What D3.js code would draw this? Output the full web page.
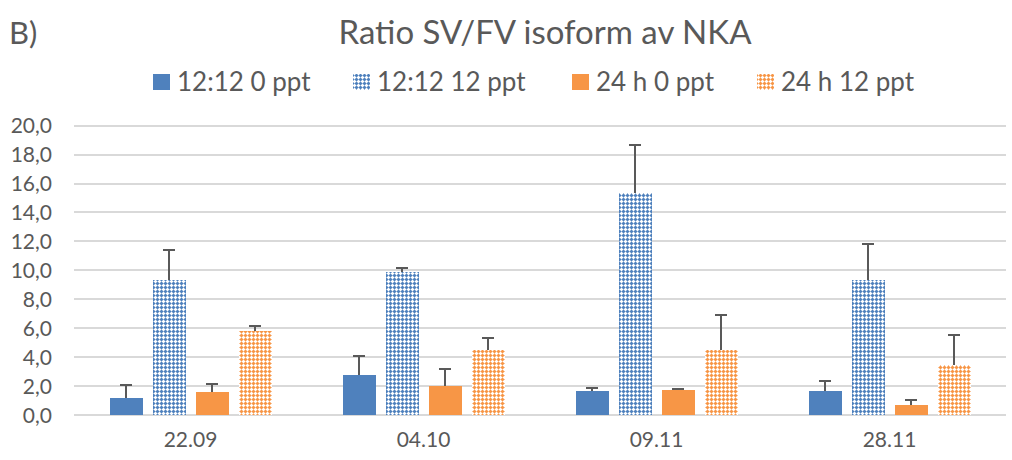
<!DOCTYPE html>
<html>
<head>
<meta charset="utf-8">
<script src="https://cdn.jsdelivr.net/npm/d3@7"></script>
<style>
  body { margin: 0; background: #fff; }
  text { font-family: Lato, "Open Sans", sans-serif; fill: #595959; }
</style>
</head>
<body>
<div id="chart"></div>
<script>
var width = 1012;
var height = 460;

// data
var categories = ["22.09", "04.10", "09.11", "28.11"];
var seriesNames = ["12:12 0 ppt", "12:12 12 ppt", "24 h 0 ppt", "24 h 12 ppt"];
var yTicks = [0, 2, 4, 6, 8, 10, 12, 14, 16, 18, 20];

var val_12_0 = [1.2, 2.77, 1.66, 1.65];
var val_12_12 = [9.34, 9.91, 15.33, 9.34];
var val_24_0 = [1.6, 2.0, 1.75, 0.7];
var val_24_12 = [5.83, 4.47, 4.5, 3.44];

var err_12_0 = [0.85, 1.33, 0.21, 0.73];
var err_12_12 = [2.09, 0.24, 3.32, 2.5];
var err_24_0 = [0.52, 1.18, 0.05, 0.34];
var err_24_12 = [0.32, 0.88, 2.42, 2.09];

var values = [val_12_0, val_12_12, val_24_0, val_24_12];
var errors = [err_12_0, err_12_12, err_24_0, err_24_12];
var colors = ["#4f81bd", "#4f81bd", "#f79646", "#f79646"];
var patterned = [false, true, false, true];

var svg = d3.select("#chart")
  .append("svg")
  .attr("width", width)
  .attr("height", height)
  .attr("shape-rendering", "crispEdges");

// plus-shaped checker patterns for the 12 ppt series
var whitePx = [[1,0],[0,1],[1,1],[2,1],[1,2]];
var halfPx = [[0,0],[2,0],[3,1],[0,2],[2,2],[1,3]];
var defs = svg.append("defs");
["#4f81bd", "#f79646"].forEach(function(c, i) {
  var p = defs.append("pattern")
    .attr("id", "pat" + i)
    .attr("patternUnits", "userSpaceOnUse")
    .attr("width", 4)
    .attr("height", 4);
  p.append("rect").attr("width", 4).attr("height", 4).attr("fill", c);
  whitePx.forEach(function(q) {
    p.append("rect").attr("x", q[0]).attr("y", q[1]).attr("width", 1).attr("height", 1).attr("fill", "#fff");
  });
  halfPx.forEach(function(q) {
    p.append("rect").attr("x", q[0]).attr("y", q[1]).attr("width", 1).attr("height", 1)
      .attr("fill", "#fff").attr("opacity", 0.45);
  });
});

function fillFor(s) {
  if (!patterned[s]) return colors[s];
  return s === 1 ? "url(#pat0)" : "url(#pat1)";
}

var x0 = d3.scaleBand()
  .domain(categories)
  .range([74, 1006])
  .paddingInner(0.305)
  .paddingOuter(0.1525);

var x1 = d3.scaleBand()
  .domain(d3.range(seriesNames.length))
  .range([0, x0.bandwidth()])
  .paddingInner(0.233);

var y = d3.scaleLinear()
  .domain([0, 20])
  .range([415, 125.7]);

// gridlines
svg.append("g")
  .selectAll("line")
  .data(yTicks)
  .join("line")
  .attr("x1", 74)
  .attr("x2", 1006)
  .attr("y1", function(d) { return Math.round(y(d)); })
  .attr("y2", function(d) { return Math.round(y(d)); })
  .attr("stroke", "#d9d9d9")
  .attr("stroke-width", 2);

// y tick labels
svg.append("g")
  .selectAll("text")
  .data(yTicks)
  .join("text")
  .attr("x", 52)
  .attr("y", function(d) { return y(d); })
  .attr("dy", "0.36em")
  .attr("text-anchor", "end")
  .style("font-size", "21px")
  .text(function(d) { return d.toFixed(1).replace(".", ","); });

// x labels
svg.append("g")
  .selectAll("text")
  .data(categories)
  .join("text")
  .attr("x", function(d) { return x0(d) + x0.bandwidth() / 2; })
  .attr("y", 447)
  .attr("text-anchor", "middle")
  .style("font-size", "21px")
  .text(function(d) { return d; });

// bars
var groups = svg.append("g")
  .selectAll("g")
  .data(categories)
  .join("g")
  .attr("transform", function(d) { return "translate(" + Math.round(x0(d)) + ",0)"; });

groups.selectAll("rect")
  .data(function(d, i) {
    return values.map(function(v, s) { return { s: s, v: v[i], e: errors[s][i] }; });
  })
  .join("rect")
  .attr("x", function(d) { return Math.round(x1(d.s)); })
  .attr("y", function(d) { return y(d.v); })
  .attr("width", Math.round(x1.bandwidth()))
  .attr("height", function(d) { return y(0) - y(d.v); })
  .attr("fill", function(d) { return fillFor(d.s); });

// error bars
var eb = groups.selectAll("g.err")
  .data(function(d, i) {
    return values.map(function(v, s) { return { s: s, v: v[i], e: errors[s][i] }; });
  })
  .join("g")
  .attr("class", "err")
  .attr("stroke", "#595959")
  .attr("stroke-width", 2);

function cx(d) { return Math.round(x1(d.s) + x1.bandwidth() / 2); }

eb.append("line")
  .attr("x1", cx)
  .attr("x2", cx)
  .attr("y1", function(d) { return y(d.v); })
  .attr("y2", function(d) { return y(d.v + d.e); });

eb.append("line")
  .attr("x1", function(d) { return cx(d) - 6; })
  .attr("x2", function(d) { return cx(d) + 6; })
  .attr("y1", function(d) { return y(d.v + d.e); })
  .attr("y2", function(d) { return y(d.v + d.e); });

// title
svg.append("text")
  .attr("x", 545)
  .attr("y", 44)
  .attr("text-anchor", "middle")
  .style("font-size", "33px")
  .text("Ratio SV/FV isoform av NKA");

svg.append("text")
  .attr("x", 9)
  .attr("y", 44)
  .style("font-size", "31px")
  .text("B)");

// legend
var legendX = [153, 353, 572, 757];
var legend = svg.append("g")
  .selectAll("g")
  .data(seriesNames)
  .join("g")
  .attr("transform", function(d, i) { return "translate(" + legendX[i] + ",0)"; });

legend.append("rect")
  .attr("x", 0)
  .attr("y", 74)
  .attr("width", 17)
  .attr("height", 16)
  .attr("fill", function(d, i) { return fillFor(i); });

legend.append("text")
  .attr("x", 24)
  .attr("y", 91)
  .style("font-size", "26px")
  .text(function(d) { return d; });
</script>
</body>
</html>
